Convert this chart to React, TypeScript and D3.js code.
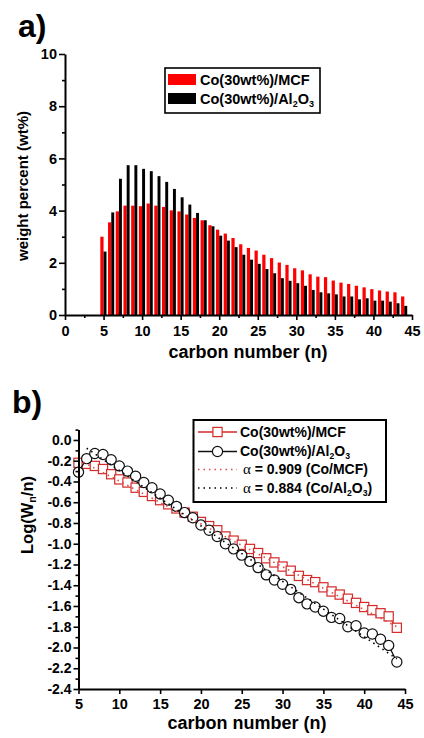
import React, { useEffect, useRef } from 'react';
import * as d3 from 'd3';

// carbon numbers C5..C44
const carbonNumbers = [5, 6, 7, 8, 9, 10, 11, 12, 13, 14, 15, 16, 17, 18, 19, 20, 21, 22, 23, 24,
  25, 26, 27, 28, 29, 30, 31, 32, 33, 34, 35, 36, 37, 38, 39, 40, 41, 42, 43, 44];

// panel a: weight percent
const mcfWeight = [3.0, 3.55, 3.97, 4.19, 4.19, 4.17, 4.27, 4.19, 4.14, 4.01, 3.97, 3.85, 3.72, 3.63,
  3.44, 3.27, 3.12, 2.95, 2.71, 2.57, 2.47, 2.31, 2.18, 2.01, 1.92, 1.79, 1.71, 1.56, 1.47, 1.45,
  1.32, 1.24, 1.19, 1.12, 1.06, 0.99, 0.94, 0.9, 0.87, 0.71];
const alWeight = [2.43, 3.93, 5.22, 5.74, 5.74, 5.6, 5.51, 5.32, 5.1, 4.83, 4.51, 4.23, 3.91, 3.63,
  3.4, 3.04, 2.85, 2.6, 2.31, 2.12, 1.96, 1.76, 1.6, 1.41, 1.31, 1.22, 1.12, 0.96, 0.87, 0.83,
  0.79, 0.71, 0.71, 0.6, 0.64, 0.55, 0.55, 0.51, 0.45, 0.35];

// panel b: Log(Wn/n)
const mcfLog = [-0.22, -0.23, -0.25, -0.28, -0.33, -0.38, -0.41, -0.46, -0.5, -0.54, -0.58, -0.62,
  -0.66, -0.7, -0.74, -0.79, -0.83, -0.87, -0.93, -0.97, -1.01, -1.05, -1.09, -1.14, -1.18, -1.22,
  -1.26, -1.31, -1.35, -1.37, -1.42, -1.46, -1.49, -1.53, -1.57, -1.61, -1.64, -1.67, -1.7, -1.81];
const alLog = [-0.31, -0.18, -0.13, -0.14, -0.19, -0.25, -0.3, -0.35, -0.41, -0.46, -0.52, -0.58,
  -0.64, -0.7, -0.75, -0.82, -0.87, -0.93, -1.0, -1.05, -1.11, -1.17, -1.23, -1.3, -1.35, -1.39,
  -1.44, -1.52, -1.58, -1.61, -1.65, -1.71, -1.72, -1.8, -1.79, -1.86, -1.87, -1.92, -1.98, -2.14];

// ASF fit lines (end points)
const mcfFit: [number, number][] = [[5, -0.19], [44, -1.8]];
const alFit: [number, number][] = [[6, -0.08], [44, -2.11]];

const xTicksA = [0, 5, 10, 15, 20, 25, 30, 35, 40, 45];
const yTicksA = [0, 2, 4, 6, 8, 10];
const xTicksB = [5, 10, 15, 20, 25, 30, 35, 40, 45];
const yTicksB = [0.0, -0.2, -0.4, -0.6, -0.8, -1.0, -1.2, -1.4, -1.6, -1.8, -2.0, -2.2, -2.4];

const FONT = '"Liberation Sans", Arial, sans-serif';
const RED_B = '#d42a2a';

const styleAxis = (g, size = 14.5) => {
  g.select('.domain').attr('stroke', '#000').attr('stroke-width', 2);
  g.selectAll('.tick line').attr('stroke', '#000').attr('stroke-width', 1.6);
  g.selectAll('text')
    .attr('fill', '#000')
    .style('font-family', FONT)
    .style('font-weight', 'bold')
    .style('font-size', size + 'px');
};

// text with Al2O3 subscripts
const subText = (sel, before, after = '') => {
  sel.append('tspan').text(before + 'Al');
  sel.append('tspan').attr('dy', 3).attr('font-size', '0.62em').text('2');
  sel.append('tspan').attr('dy', -3).text('O');
  sel.append('tspan').attr('dy', 3).attr('font-size', '0.62em').text('3');
  if (after) sel.append('tspan').attr('dy', -3).text(after);
};

const App = () => {
  const ref = useRef<SVGSVGElement>(null);

  useEffect(() => {
    const svg = d3.select(ref.current);
    svg.selectAll('*').remove();
    drawA(svg);
    drawB(svg);
  }, []);

  const drawA = (svg) => {
    const x = d3.scaleLinear().domain([0, 45]).range([65, 412]);
    const y = d3.scaleLinear().domain([0, 10]).range([315, 54]);

    // bars
    svg.append('g').selectAll('rect')
      .data(carbonNumbers)
      .enter()
      .append('rect')
      .attr('x', d => x(d - 0.42))
      .attr('width', d => x(d) - x(d - 0.42))
      .attr('y', (_, i) => y(mcfWeight[i]))
      .attr('height', (_, i) => y(0) - y(mcfWeight[i]))
      .attr('fill', '#ff0000');
    svg.append('g').selectAll('rect')
      .data(carbonNumbers)
      .enter()
      .append('rect')
      .attr('x', d => x(d))
      .attr('width', d => x(d + 0.38) - x(d))
      .attr('y', (_, i) => y(alWeight[i]))
      .attr('height', (_, i) => y(0) - y(alWeight[i]))
      .attr('fill', '#000');

    // minor ticks
    svg.append('g')
      .attr('transform', 'translate(0,315)')
      .call(d3.axisBottom(x).tickValues(xTicksA.slice(0, -1).map(d => d + 2.5)).tickSize(3).tickFormat(() => ''))
      .call(g => { styleAxis(g); g.select('.domain').remove(); });
    svg.append('g')
      .attr('transform', 'translate(65,0)')
      .call(d3.axisLeft(y).tickValues(yTicksA.slice(0, -1).map(d => d + 1)).tickSize(3).tickFormat(() => ''))
      .call(g => { styleAxis(g); g.select('.domain').remove(); });

    svg.append('g')
      .attr('transform', 'translate(0,315)')
      .call(d3.axisBottom(x).tickValues(xTicksA).tickSize(5).tickSizeOuter(0).tickPadding(6).tickFormat(d3.format('d')))
      .call(g => styleAxis(g));
    svg.append('g')
      .attr('transform', 'translate(65,0)')
      .call(d3.axisLeft(y).tickValues(yTicksA).tickSize(6).tickSizeOuter(0).tickPadding(2).tickFormat(d3.format('d')))
      .call(g => styleAxis(g));

    // labels
    svg.append('text').attr('x', 18).attr('y', 37).text('a)')
      .style('font-family', FONT).style('font-weight', 'bold').style('font-size', '32px');
    svg.append('text').attr('x', 248).attr('y', 358).attr('text-anchor', 'middle')
      .text('carbon number (n)')
      .style('font-family', FONT).style('font-weight', 'bold').style('font-size', '18px');
    svg.append('text').attr('transform', 'translate(28,186) rotate(-90)').attr('text-anchor', 'middle')
      .text('weight percent (wt%)')
      .style('font-family', FONT).style('font-weight', 'bold').style('font-size', '15px');

    // legend
    const lg = svg.append('g');
    lg.append('rect').attr('x', 165).attr('y', 68).attr('width', 155).attr('height', 45)
      .attr('fill', '#fff').attr('stroke', '#000').attr('stroke-width', 1.6);
    lg.append('rect').attr('x', 168).attr('y', 74).attr('width', 28).attr('height', 11).attr('fill', '#ff0000');
    lg.append('rect').attr('x', 168).attr('y', 93).attr('width', 28).attr('height', 11).attr('fill', '#000');
    lg.append('text').attr('x', 200).attr('y', 85).text('Co(30wt%)/MCF')
      .style('font-family', FONT).style('font-weight', 'bold').style('font-size', '14.5px');
    lg.append('text').attr('x', 200).attr('y', 104)
      .style('font-family', FONT).style('font-weight', 'bold').style('font-size', '14.5px')
      .call(t => subText(t, 'Co(30wt%)/'));
  };

  const drawB = (svg) => {
    const x = d3.scaleLinear().domain([5, 45]).range([78.5, 405]);
    const y = d3.scaleLinear().domain([-2.4, 0.1]).range([689, 429.6]);

    const line = d3.line<number>().x((_, i) => x(carbonNumbers[i])).y(d => y(d));

    // Co/MCF
    svg.append('path').datum(mcfLog).attr('d', line)
      .attr('fill', 'none').attr('stroke', RED_B).attr('stroke-width', 1.3);
    svg.append('g').selectAll('rect')
      .data(mcfLog)
      .enter()
      .append('rect')
      .attr('x', (_, i) => x(carbonNumbers[i]) - 4.6)
      .attr('y', d => y(d) - 4.6)
      .attr('width', 9.2).attr('height', 9.2)
      .attr('fill', '#fff').attr('stroke', RED_B).attr('stroke-width', 1.2);

    // Co/Al2O3
    svg.append('path').datum(alLog).attr('d', line)
      .attr('fill', 'none').attr('stroke', '#111').attr('stroke-width', 1.3);
    svg.append('g').selectAll('circle')
      .data(alLog)
      .enter()
      .append('circle')
      .attr('cx', (_, i) => x(carbonNumbers[i]))
      .attr('cy', d => y(d))
      .attr('r', 5.1)
      .attr('fill', '#fff').attr('stroke', '#111').attr('stroke-width', 1.2);

    // fit lines
    const fitLine = d3.line<[number, number]>().x(d => x(d[0])).y(d => y(d[1]));
    svg.append('path').datum(mcfFit).attr('d', fitLine)
      .attr('fill', 'none').attr('stroke', '#e04a4a').attr('stroke-width', 1.6).attr('stroke-dasharray', '1.5,4');
    svg.append('path').datum(alFit).attr('d', fitLine)
      .attr('fill', 'none').attr('stroke', '#000').attr('stroke-width', 1.6).attr('stroke-dasharray', '1.5,4');

    // axes
    const yMinor = yTicksB.slice(0, -1).map(d => d - 0.1).concat([0.1]);
    svg.append('g')
      .attr('transform', 'translate(78.5,0)')
      .call(d3.axisLeft(y).tickValues(yMinor).tickSize(3).tickFormat(() => ''))
      .call(g => { styleAxis(g); g.select('.domain').remove(); });
    svg.append('g')
      .attr('transform', 'translate(78.5,0)')
      .call(d3.axisLeft(y).tickValues(yTicksB).tickSize(5).tickSizeOuter(0).tickPadding(2)
        .tickFormat(d => (+d).toFixed(1).replace('-0.0', '0.0')))
      .call(g => styleAxis(g, 14));
    svg.append('g')
      .attr('transform', 'translate(0,689)')
      .call(d3.axisBottom(x).tickValues(xTicksB).tickSize(5).tickSizeOuter(0).tickPadding(5).tickFormat(d3.format('d')))
      .call(g => styleAxis(g));

    // labels
    svg.append('text').attr('x', 12).attr('y', 413).text('b)')
      .style('font-family', FONT).style('font-weight', 'bold').style('font-size', '32px');
    svg.append('text').attr('x', 247).attr('y', 729).attr('text-anchor', 'middle')
      .text('carbon number (n)')
      .style('font-family', FONT).style('font-weight', 'bold').style('font-size', '18px');
    const yl = svg.append('text').attr('transform', 'translate(33,515) rotate(-90)').attr('text-anchor', 'middle')
      .style('font-family', FONT).style('font-weight', 'bold').style('font-size', '16.5px');
    yl.append('tspan').text('Log(W');
    yl.append('tspan').attr('dy', 3).attr('font-size', '0.65em').text('n');
    yl.append('tspan').attr('dy', -3).text('/n)');

    // legend
    const lg = svg.append('g');
    lg.append('rect').attr('x', 193.5).attr('y', 420).attr('width', 192.5).attr('height', 82)
      .attr('fill', '#fff').attr('stroke', '#000').attr('stroke-width', 2);
    const rows = [432, 451.5, 469.5, 488];
    const textStyle = t => t.style('font-family', FONT).style('font-weight', 'bold').style('font-size', '14px');

    lg.append('line').attr('x1', 198).attr('x2', 237).attr('y1', rows[0]).attr('y2', rows[0])
      .attr('stroke', RED_B).attr('stroke-width', 1.6);
    lg.append('rect').attr('x', 217.5 - 4.6).attr('y', rows[0] - 4.6).attr('width', 9.2).attr('height', 9.2)
      .attr('fill', '#fff').attr('stroke', RED_B).attr('stroke-width', 1.2);
    lg.append('text').attr('x', 240).attr('y', rows[0] + 4.5).text('Co(30wt%)/MCF').call(textStyle);

    lg.append('line').attr('x1', 198).attr('x2', 237).attr('y1', rows[1]).attr('y2', rows[1])
      .attr('stroke', '#111').attr('stroke-width', 1.6);
    lg.append('circle').attr('cx', 217.5).attr('cy', rows[1]).attr('r', 5.1)
      .attr('fill', '#fff').attr('stroke', '#111').attr('stroke-width', 1.2);
    lg.append('text').attr('x', 240).attr('y', rows[1] + 4.5).call(textStyle)
      .call(t => subText(t, 'Co(30wt%)/'));

    lg.append('line').attr('x1', 198).attr('x2', 237).attr('y1', rows[2]).attr('y2', rows[2])
      .attr('stroke', '#e04a4a').attr('stroke-width', 1.6).attr('stroke-dasharray', '1.5,4');
    const r3 = lg.append('text').attr('x', 243).attr('y', rows[2] + 4.5).call(textStyle);
    r3.append('tspan').style('font-family', '"Liberation Serif", serif').style('font-weight', 'normal')
      .style('font-size', '15px').text('α');
    r3.append('tspan').text(' = 0.909 (Co/MCF)');

    lg.append('line').attr('x1', 198).attr('x2', 237).attr('y1', rows[3]).attr('y2', rows[3])
      .attr('stroke', '#000').attr('stroke-width', 1.6).attr('stroke-dasharray', '1.5,4');
    const r4 = lg.append('text').attr('x', 243).attr('y', rows[3] + 4.5).call(textStyle);
    r4.append('tspan').style('font-family', '"Liberation Serif", serif').style('font-weight', 'normal')
      .style('font-size', '15px').text('α');
    subText(r4, ' = 0.884 (Co/', ')');
  };

  return (
    <svg ref={ref} width={424} height={738}
      style={{ position: 'absolute', left: 0, top: 0, background: '#fff' }} />
  );
};

export default App;
